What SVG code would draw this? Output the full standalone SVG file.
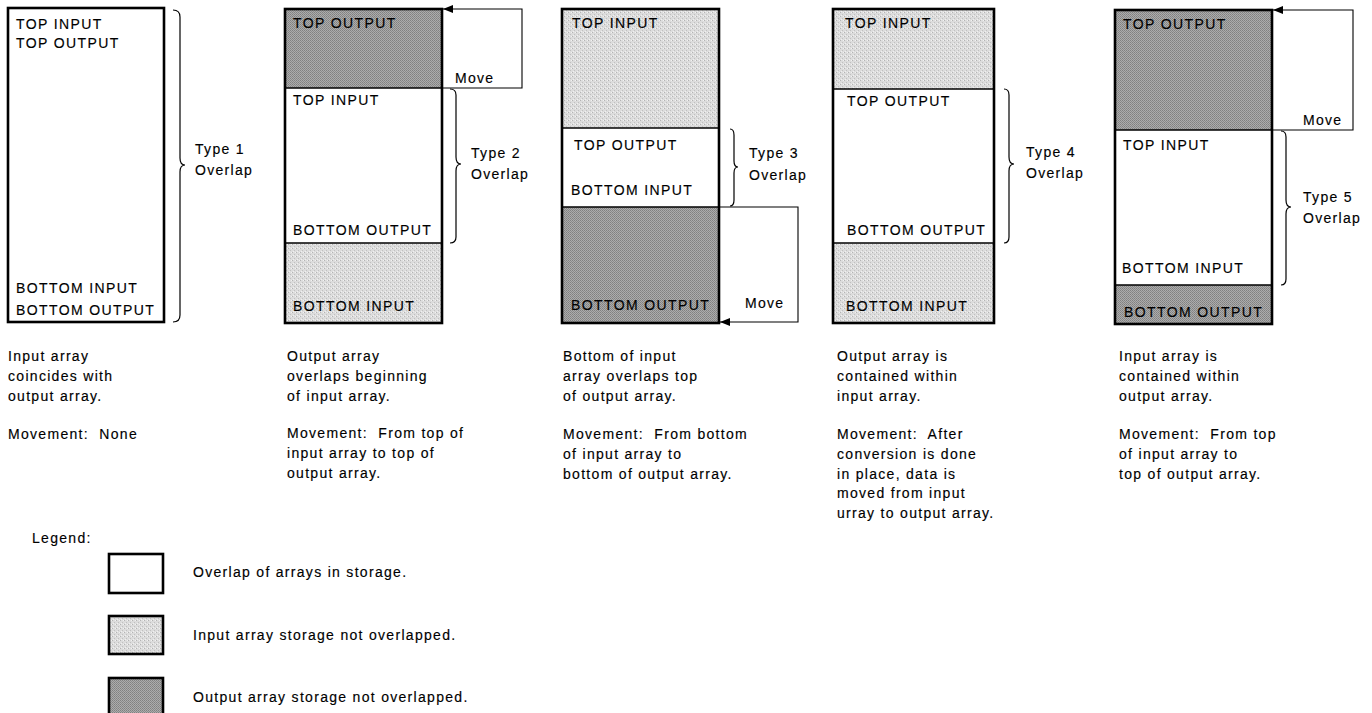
<svg xmlns="http://www.w3.org/2000/svg" width="1372" height="713" viewBox="0 0 1372 713">
<defs>
<style>
.box{fill:none;stroke:#000;stroke-width:2.6}
.div{stroke:#000;stroke-width:1.6;fill:none}
.lbl{font-family:"Liberation Sans",Arial,sans-serif;font-size:14px;letter-spacing:1.4px;fill:#000;stroke:#000;stroke-width:0.15}
.txt{font-family:"Liberation Sans",Arial,sans-serif;font-size:14px;letter-spacing:1.3px;fill:#000;stroke:#000;stroke-width:0.15}
.brace{fill:none;stroke:#000;stroke-width:1.2}
.mv{fill:none;stroke:#000;stroke-width:1.1}
.light{fill:url(#pLight)}
.dark{fill:url(#pDark)}
</style>
<pattern id="pLight" width="4" height="4" patternUnits="userSpaceOnUse">
<rect width="4" height="4" fill="#dcdcdc"/>
<rect x="0" y="0" width="1" height="1" fill="#b4b4b4"/>
<rect x="2" y="2" width="1" height="1" fill="#c0c0c0"/>
<rect x="3" y="0" width="1" height="1" fill="#f2f2f2"/>
<rect x="1" y="3" width="1" height="1" fill="#f0f0f0"/>
</pattern>
<pattern id="pDark" width="2" height="2" patternUnits="userSpaceOnUse">
<rect width="2" height="2" fill="#acacac"/>
<rect x="0" y="0" width="1" height="1" fill="#808080"/>
<rect x="1" y="1" width="1" height="1" fill="#8a8a8a"/>
</pattern>
<marker id="arr" markerUnits="userSpaceOnUse" markerWidth="12" markerHeight="8" refX="10" refY="4" orient="auto">
<path d="M0,0 L10,4 L0,8 z" fill="#000"/>
</marker>
</defs>
<rect width="1372" height="713" fill="#fff"/>

<g id="box1">
<rect class="box" x="8" y="8" width="156" height="314" fill="#fff"/>
<text class="lbl" x="16" y="29">TOP INPUT</text>
<text class="lbl" x="16" y="48">TOP OUTPUT</text>
<text class="lbl" x="16" y="293">BOTTOM INPUT</text>
<text class="lbl" x="16" y="315">BOTTOM OUTPUT</text>
</g>

<g id="box2">
<rect class="dark" x="285" y="9" width="157" height="79"/>
<rect class="light" x="285" y="243" width="157" height="80"/>
<line class="div" x1="285" y1="88" x2="442" y2="88"/>
<line class="div" x1="285" y1="243" x2="442" y2="243"/>
<rect class="box" x="285" y="9" width="157" height="314"/>
<text class="lbl" x="293" y="28">TOP OUTPUT</text>
<text class="lbl" x="293" y="105">TOP INPUT</text>
<text class="lbl" x="293" y="235">BOTTOM OUTPUT</text>
<text class="lbl" x="293" y="311">BOTTOM INPUT</text>
</g>

<g id="box3">
<rect class="light" x="562" y="9" width="157" height="119"/>
<rect class="dark" x="562" y="207" width="157" height="116"/>
<line class="div" x1="562" y1="128" x2="719" y2="128"/>
<line class="div" x1="562" y1="207" x2="719" y2="207"/>
<rect class="box" x="562" y="9" width="157" height="314"/>
<text class="lbl" x="572" y="28">TOP INPUT</text>
<text class="lbl" x="574" y="150">TOP OUTPUT</text>
<text class="lbl" x="571" y="195">BOTTOM INPUT</text>
<text class="lbl" x="571" y="310">BOTTOM OUTPUT</text>
</g>

<g id="box4">
<rect class="light" x="833" y="9" width="161" height="80"/>
<rect class="light" x="833" y="243" width="161" height="80"/>
<line class="div" x1="833" y1="89" x2="994" y2="89"/>
<line class="div" x1="833" y1="243" x2="994" y2="243"/>
<rect class="box" x="833" y="9" width="161" height="314"/>
<text class="lbl" x="845" y="28">TOP INPUT</text>
<text class="lbl" x="847" y="106">TOP OUTPUT</text>
<text class="lbl" x="847" y="235">BOTTOM OUTPUT</text>
<text class="lbl" x="846" y="311">BOTTOM INPUT</text>
</g>

<g id="box5">
<rect class="dark" x="1115" y="10" width="157" height="120"/>
<rect class="dark" x="1115" y="285" width="157" height="39"/>
<line class="div" x1="1115" y1="130" x2="1272" y2="130"/>
<line class="div" x1="1115" y1="285" x2="1272" y2="285"/>
<rect class="box" x="1115" y="10" width="157" height="314"/>
<text class="lbl" x="1123" y="29">TOP OUTPUT</text>
<text class="lbl" x="1123" y="150">TOP INPUT</text>
<text class="lbl" x="1122" y="273">BOTTOM INPUT</text>
<text class="lbl" x="1124" y="317">BOTTOM OUTPUT</text>
</g>

<g id="braces">
<path class="brace" d="M173,10 Q180,10 180,17 V158 Q180,165 185,165 Q180,165 180,172 V315 Q180,322 173,322"/>
<path class="brace" d="M450,89 Q456,89 456,95 V157 Q456,164 461,164 Q456,164 456,171 V237 Q456,243 450,243"/>
<path class="brace" d="M730,129 Q734,129 734,135 V161 Q734,167 738,167 Q734,167 734,173 V200 Q734,206 730,206"/>
<path class="brace" d="M1004,89 Q1009,89 1009,95 V157 Q1009,164 1014,164 Q1009,164 1009,171 V237 Q1009,243 1004,243"/>
<path class="brace" d="M1281,131 Q1286,131 1286,137 V200 Q1286,207 1291,207 Q1286,207 1286,214 V279 Q1286,285 1281,285"/>
</g>

<g id="type-labels">
<text class="txt" x="195" y="154">Type 1</text>
<text class="txt" x="195" y="175">Overlap</text>
<text class="txt" x="471" y="158">Type 2</text>
<text class="txt" x="471" y="179">Overlap</text>
<text class="txt" x="749" y="158">Type 3</text>
<text class="txt" x="749" y="180">Overlap</text>
<text class="txt" x="1026" y="157">Type 4</text>
<text class="txt" x="1026" y="178">Overlap</text>
<text class="txt" x="1303" y="202">Type 5</text>
<text class="txt" x="1303" y="223">Overlap</text>
</g>

<g id="connectors">
<path class="mv" d="M442,88 H522 V9 H443" marker-end="url(#arr)"/>
<path class="mv" d="M719,207 H798 V322 H720" marker-end="url(#arr)"/>
<path class="mv" d="M1272,130 H1353 V10 H1273" marker-end="url(#arr)"/>
<text class="txt" x="455" y="83">Move</text>
<text class="txt" x="745" y="308">Move</text>
<text class="txt" x="1303" y="125">Move</text>
</g>

<g id="desc1">
<text class="txt" x="8" y="361">Input array</text>
<text class="txt" x="8" y="381">coincides with</text>
<text class="txt" x="8" y="401">output array.</text>
<text class="txt" x="8" y="439" xml:space="preserve">Movement:  None</text>
</g>
<g id="desc2">
<text class="txt" x="287" y="361">Output array</text>
<text class="txt" x="287" y="381">overlaps beginning</text>
<text class="txt" x="287" y="401">of input array.</text>
<text class="txt" x="287" y="438" xml:space="preserve">Movement:  From top of</text>
<text class="txt" x="287" y="458">input array to top of</text>
<text class="txt" x="287" y="478">output array.</text>
</g>
<g id="desc3">
<text class="txt" x="563" y="361">Bottom of input</text>
<text class="txt" x="563" y="381">array overlaps top</text>
<text class="txt" x="563" y="401">of output array.</text>
<text class="txt" x="563" y="439" xml:space="preserve">Movement:  From bottom</text>
<text class="txt" x="563" y="459">of input array to</text>
<text class="txt" x="563" y="479">bottom of output array.</text>
</g>
<g id="desc4">
<text class="txt" x="837" y="361">Output array is</text>
<text class="txt" x="837" y="381">contained within</text>
<text class="txt" x="837" y="401">input array.</text>
<text class="txt" x="837" y="439" xml:space="preserve">Movement:  After</text>
<text class="txt" x="837" y="459">conversion is done</text>
<text class="txt" x="837" y="479">in place, data is</text>
<text class="txt" x="837" y="498">moved from input</text>
<text class="txt" x="837" y="518">urray to output array.</text>
</g>
<g id="desc5">
<text class="txt" x="1119" y="361">Input array is</text>
<text class="txt" x="1119" y="381">contained within</text>
<text class="txt" x="1119" y="401">output array.</text>
<text class="txt" x="1119" y="439" xml:space="preserve">Movement:  From top</text>
<text class="txt" x="1119" y="459">of input array to</text>
<text class="txt" x="1119" y="479">top of output array.</text>
</g>

<g id="legend">
<text class="txt" x="32" y="543">Legend:</text>
<rect class="box" x="109" y="554" width="54" height="39" fill="#fff" stroke-width="2"/>
<rect class="light" x="109" y="616" width="54" height="38"/>
<rect class="box" x="109" y="616" width="54" height="38" stroke-width="2"/>
<rect class="dark" x="109" y="678" width="54" height="40"/>
<rect class="box" x="109" y="678" width="54" height="40" stroke-width="2"/>
<text class="txt" x="193" y="577">Overlap of arrays in storage.</text>
<text class="txt" x="193" y="640">Input array storage not overlapped.</text>
<text class="txt" x="193" y="702">Output array storage not overlapped.</text>
</g>
</svg>
